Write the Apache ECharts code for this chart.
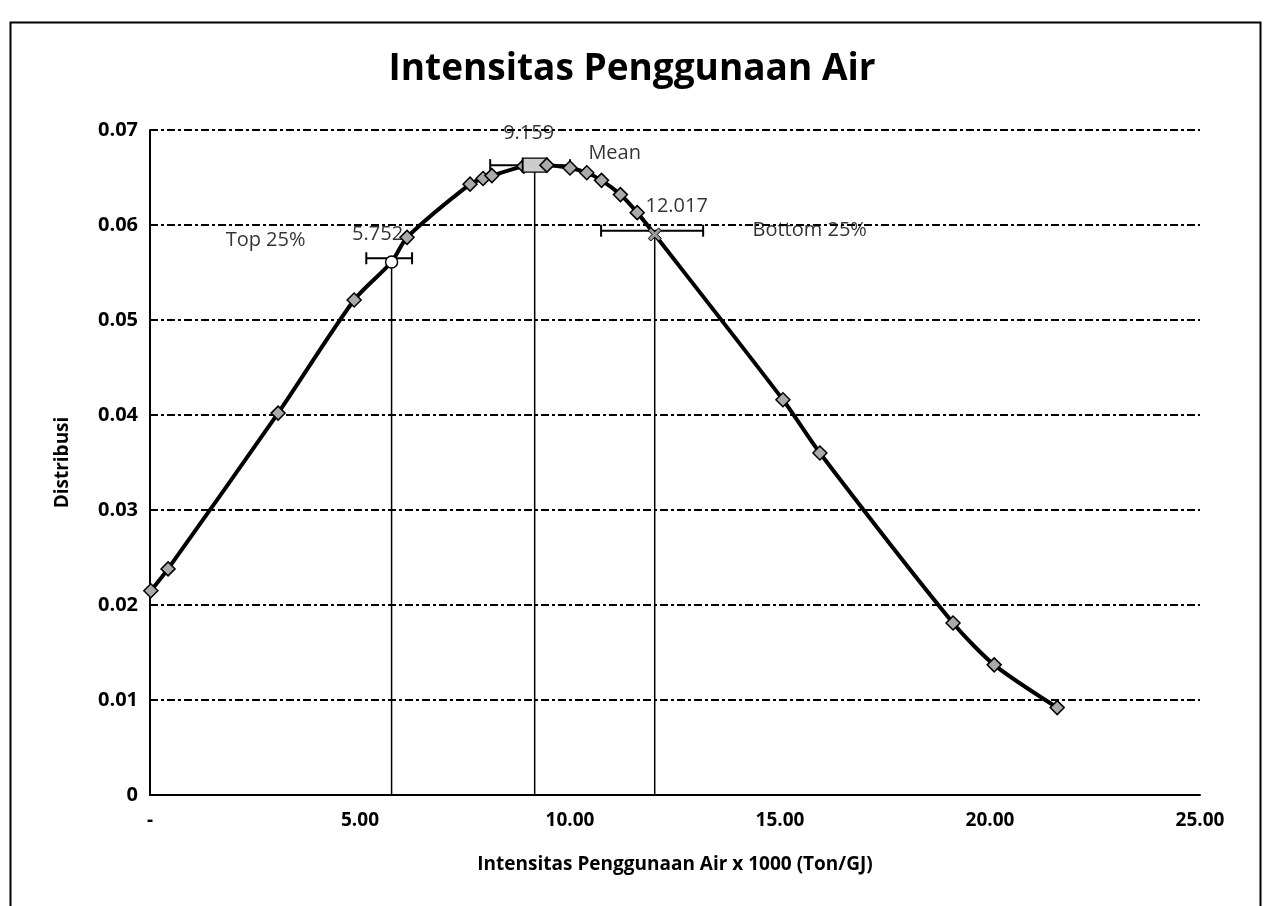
<!DOCTYPE html>
<html>
<head>
<meta charset="utf-8">
<script src="https://cdn.jsdelivr.net/npm/echarts@6/dist/echarts.min.js"></script>
<style>
html,body{margin:0;padding:0;background:#fff;}
#chart{width:1264px;height:906px;}
</style>
</head>
<body>
<div id="chart"></div>
<script>
// ---- data ----
const curveX = [0.02, 0.43, 3.05, 4.86, 5.752, 6.12, 7.62, 7.93, 8.14, 8.9, 9.159, 9.45, 10.0, 10.4, 10.75, 11.2, 11.6, 12.017, 15.07, 15.95, 19.12, 20.1, 21.6];
const curveY = [0.0215, 0.0238, 0.0402, 0.0521, 0.0561, 0.0587, 0.0643, 0.0649, 0.0652, 0.0662, 0.0663, 0.0663, 0.0660, 0.0655, 0.0647, 0.0632, 0.0613, 0.0590, 0.0416, 0.0360, 0.0181, 0.0137, 0.0092];

const markNames = ["Top 25%", "Mean", "Bottom 25%"];
const markX = [5.752, 9.159, 12.017];
const markY = [0.0565, 0.0663, 0.0594];
const markValueLabels = ["5.752", "9.159", "12.017"];
const errLow = [5.15, 8.1, 10.74];
const errHigh = [6.24, 10.0, 13.17];

const xTicks = [0, 5, 10, 15, 20, 25];
const yTicks = [0, 0.01, 0.02, 0.03, 0.04, 0.05, 0.06, 0.07];

const titleText = "Intensitas Penggunaan Air";
const xName = "Intensitas Penggunaan Air x 1000 (Ton/GJ)";
const yName = "Distribusi";

// ---- build ----
const curveData = curveX.map((x, i) => [x, curveY[i]]);
const specialIdx = {5.752: 'circle', 9.159: 'rect', 12.017: 'x'};
const curveStyled = curveData.map(p => {
  const s = specialIdx[p[0]];
  if (s === 'circle') return {value: p, symbol: 'circle', symbolSize: 12, itemStyle: {color: '#fff', borderColor: '#000', borderWidth: 1.5}};
  if (s === 'rect') return {value: p, symbol: 'rect', symbolSize: [24, 14], itemStyle: {color: '#ccc', borderColor: '#000', borderWidth: 1.5}};
  if (s === 'x') return {value: p, symbol: 'path://M0,2L2,0L5,3L8,0L10,2L7,5L10,8L8,10L5,7L2,10L0,8L3,5Z', symbolSize: 13, itemStyle: {color: '#999', borderColor: '#000', borderWidth: 1}};
  return p;
});

const markData = markX.map((x, i) => [x, markY[i], errLow[i], errHigh[i], i]);
const valueLabelOffsets = [[-14, -4], [-6, -12], [22, -4]];

const chart = echarts.init(document.getElementById('chart'));
const font = '"Open Sans", "Noto Sans", sans-serif';

chart.setOption({
  backgroundColor: '#fff',
  animation: false,
  title: {
    text: titleText, left: 'center', top: 46,
    textStyle: {fontFamily: font, fontWeight: 'bold', fontSize: 37, color: '#000'}
  },
  graphic: [{
    type: 'rect', left: 8, top: 20, z: -1,
    shape: {width: 1250, height: 900},
    style: {fill: 'none', stroke: '#000', lineWidth: 2}
  }],
  grid: {left: 150, right: 64, top: 130, bottom: 111, show: false},
  xAxis: {
    type: 'value', min: xTicks[0], max: xTicks[xTicks.length - 1], interval: 5,
    name: xName, nameLocation: 'middle', nameGap: 60,
    nameTextStyle: {fontFamily: font, fontWeight: 'bold', fontSize: 19, color: '#000'},
    axisLine: {show: true, lineStyle: {color: '#000', width: 2}},
    axisTick: {show: false},
    splitLine: {show: false},
    axisLabel: {
      margin: 16, fontFamily: font, fontWeight: 'bold', fontSize: 19, color: '#000',
      formatter: v => v === 0 ? '-' : v.toFixed(2)
    }
  },
  yAxis: {
    type: 'value', min: yTicks[0], max: yTicks[yTicks.length - 1], interval: 0.01,
    name: yName, nameLocation: 'middle', nameGap: 78, nameRotate: 90,
    nameTextStyle: {fontFamily: font, fontWeight: 'bold', fontSize: 19, color: '#000'},
    axisLine: {show: true, lineStyle: {color: '#000', width: 2}},
    axisTick: {show: false},
    splitLine: {show: true, lineStyle: {color: '#000', width: 2, type: [8, 3, 3, 3]}},
    axisLabel: {
      margin: 12, fontFamily: font, fontWeight: 'bold', fontSize: 20, color: '#000',
      formatter: v => v === 0 ? '0' : v.toFixed(2)
    }
  },
  series: [
    {
      // vertical drop lines and error bars
      type: 'custom',
      data: markData,
      z: 3,
      renderItem: (params, api) => {
        const x = api.value(0), y = api.value(1), lo = api.value(2), hi = api.value(3);
        const top = api.coord([x, y]);
        const bot = api.coord([x, 0]);
        const l = api.coord([lo, y]);
        const r = api.coord([hi, y]);
        const st = {stroke: '#000', lineWidth: 2};
        return {
          type: 'group',
          children: [
            {type: 'line', shape: {x1: top[0], y1: top[1], x2: bot[0], y2: bot[1]}, style: {stroke: '#000', lineWidth: 1.5}},
            {type: 'line', shape: {x1: l[0], y1: l[1], x2: r[0], y2: r[1]}, style: st},
            {type: 'line', shape: {x1: l[0], y1: l[1] - 6, x2: l[0], y2: l[1] + 6}, style: st},
            {type: 'line', shape: {x1: r[0], y1: r[1] - 6, x2: r[0], y2: r[1] + 6}, style: st}
          ]
        };
      }
    },
    {
      type: 'line',
      data: curveStyled,
      smooth: 0.25,
      z: 4,
      lineStyle: {color: '#000', width: 4},
      symbol: 'diamond',
      symbolSize: 14,
      itemStyle: {color: '#aaa', borderColor: '#000', borderWidth: 1.5}
    },
    {
      // value labels
      type: 'scatter',
      data: markData.map((d, i) => ({value: [d[0], d[1]], name: markValueLabels[i], label: {offset: valueLabelOffsets[i]}})),
      symbolSize: 0,
      z: 5,
      label: {
        show: true, formatter: p => p.name,
        fontFamily: font, fontSize: 20, color: '#000', textBorderWidth: 0,
        position: 'top', distance: 10
      }
    },
    {
      // name labels
      type: 'scatter',
      data: [
        {value: [markX[0], markY[0]], name: markNames[0], label: {offset: [-126, -18]}},
        {value: [markX[1], markY[1]], name: markNames[1], label: {offset: [80, -12]}},
        {value: [markX[2], markY[2]], name: markNames[2], label: {offset: [155, 0]}}
      ],
      symbolSize: 0,
      z: 5,
      label: {
        show: true, formatter: p => p.name, position: 'inside',
        fontFamily: font, fontSize: 20, color: '#000', textBorderWidth: 0
      }
    }
  ]
});
</script>
</body>
</html>
